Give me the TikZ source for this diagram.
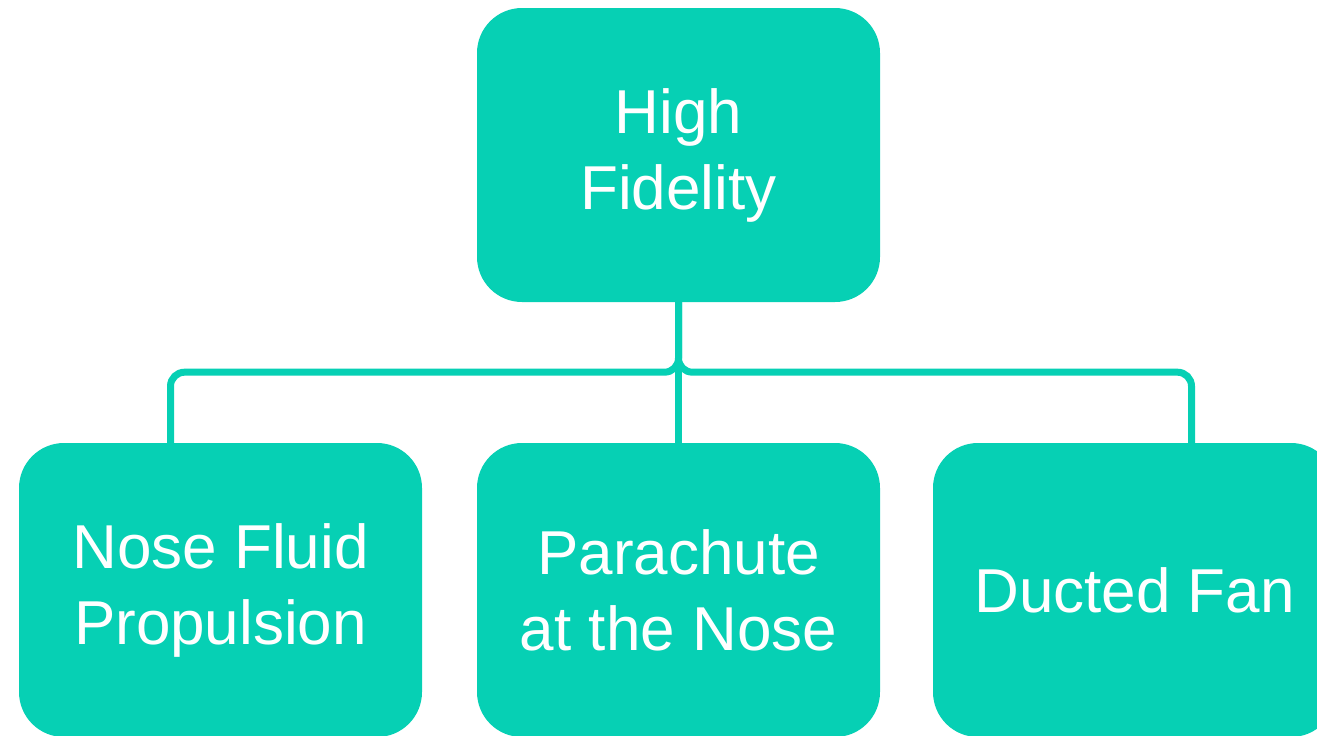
\documentclass[tikz,border=0pt]{standalone}
\usepackage{fontspec}
\setmainfont{Liberation Sans}
\usetikzlibrary{positioning}

\definecolor{boxteal}{RGB}{6,208,180}

\begin{document}
\begin{tikzpicture}[x=1pt, y=-1pt, on grid,
box/.style={fill=boxteal, rounded corners=45pt, minimum width=403pt,
minimum height=294pt, inner sep=0pt, align=center, text=white,
font=\fontsize{62}{76}\selectfont},
link/.style={draw=boxteal, line width=7pt, rounded corners=14pt}]
\useasboundingbox (0,0) rectangle (1317,736);
\node [box] (hf) at (678.5,155) {High\\Fidelity};
\node [box] (pan) [below = 435pt of hf] {Parachute\\at the Nose};
\node [box] (nfp) [left = 458pt of pan] {Nose Fluid\\Propulsion};
\node [box] (df) [right = 456pt of pan] {Ducted Fan};
\draw [link] (hf.south) -- ++(0,70) -| ([xshift=-50pt]nfp.north);
\draw [link] (hf.south) -- ++(0,70) -| ([xshift=57pt]df.north);
\draw [link] (hf.south) -- (pan.north);
\end{tikzpicture}
\end{document}
